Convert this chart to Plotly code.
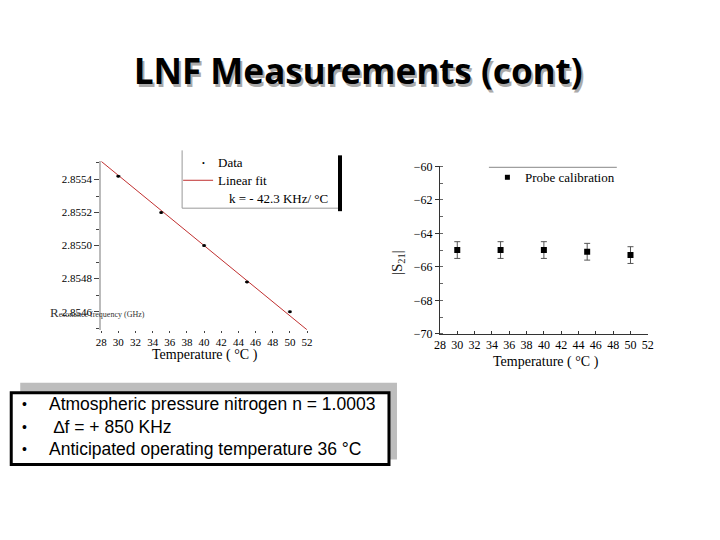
import plotly.graph_objects as go

# ---- data ----
temp_left = [30, 35, 40, 45, 50]
freq_ghz = [2.85542, 2.85520, 2.85500, 2.85478, 2.85460]
freq_err = [0.000003, 0.000003, 0.000003, 0.000003, 0.000003]
fit_x = [28, 52]
fit_y = [2.85551, 2.85449]

temp_right = [30, 35, 40, 45, 50]
s21_db = [-65.0, -65.0, -65.0, -65.1, -65.3]
s21_err = [0.5, 0.5, 0.5, 0.5, 0.5]

bullets = ["Atmospheric pressure nitrogen n = 1.0003",
           "\u00a0\u2206f = + 850 KHz",
           "Anticipated operating temperature 36 \u00b0C"]

W, H = 720, 540
SX, SY = 0.984, 0.977
def px(x): return (360 + (x - 360) / SX) / W
def py(y): return 1 - (270 + (y - 270) / SY) / H

SERIF = "Liberation Serif, Times New Roman, serif"
SANS = "Liberation Sans, Arial, sans-serif"

fig = go.Figure()

fig.add_trace(go.Scatter(x=fit_x, y=fit_y, mode="lines",
                         line=dict(color="#c03030", width=1),
                         xaxis="x", yaxis="y", showlegend=False, cliponaxis=True))
fig.add_trace(go.Scatter(x=temp_left, y=freq_ghz, mode="markers",
                         marker=dict(color="black", size=3),
                         error_y=dict(type="data", array=freq_err, color="#333", thickness=1, width=2),
                         xaxis="x", yaxis="y", showlegend=False))
fig.add_trace(go.Scatter(x=temp_right, y=s21_db, mode="markers",
                         marker=dict(color="black", size=6, symbol="square"),
                         error_y=dict(type="data", array=s21_err, color="#555", thickness=1, width=3),
                         xaxis="x2", yaxis="y2", showlegend=False))

tickfont_l = dict(family=SERIF, size=11, color="black")
tickfont_r = dict(family=SERIF, size=12, color="black")

fig.update_layout(
    width=W, height=H, margin=dict(l=0, r=0, t=0, b=0),
    paper_bgcolor="white", plot_bgcolor="white", showlegend=False,
    separators=".-",
    xaxis=dict(domain=[px(101), px(307)], range=[28, 52], dtick=2, tick0=28,
               showgrid=False, zeroline=False, showline=False,
               ticks="outside", ticklen=2, tickcolor="#444", tickfont=tickfont_l,
               anchor="y"),
    yaxis=dict(domain=[py(330), py(161)], range=[2.85449, 2.85551], dtick=0.0002, tick0=2.8546,
               tickformat=".4f", showgrid=False, zeroline=False,
               showline=True, linecolor="#bbbbbb", linewidth=2,
               ticks="outside", ticklen=5, tickcolor="#444", tickfont=tickfont_l,
               minor=dict(dtick=0.0001, ticks="outside", ticklen=3, tickcolor="#444"),
               anchor="x"),
    xaxis2=dict(domain=[px(440), px(648)], range=[28, 52], dtick=2, tick0=28,
                showgrid=False, zeroline=False, showline=True, linecolor="#333", linewidth=1,
                ticks="inside", ticklen=3, tickcolor="#333", tickfont=tickfont_r,
                anchor="y2"),
    yaxis2=dict(domain=[py(334), py(166)], range=[-70, -60], dtick=2, tick0=-70,
                showgrid=False, zeroline=False, showline=True, linecolor="#333", linewidth=1,
                ticks="outside", ticklen=4, tickcolor="#333", tickfont=tickfont_r,
                minor=dict(dtick=1, ticks="inside", ticklen=3, tickcolor="#666"),
                anchor="x2"),
)

ann = []
# Title with shadow
title = "LNF Measurements (cont)"
TF = "Noto Sans, DejaVu Sans, sans-serif"
ann.append(dict(x=px(361), y=py(73), text=f"<b>{title}</b>", showarrow=False,
                font=dict(family=TF, size=35, color="#aaaaaa"),
                xref="paper", yref="paper", xanchor="center", yanchor="middle"))
ann.append(dict(x=px(358), y=py(70), text=f"<b>{title}</b>", showarrow=False,
                font=dict(family=TF, size=35, color="black"),
                xref="paper", yref="paper", xanchor="center", yanchor="middle"))

# axis titles
ann.append(dict(x=px(205), y=py(355), text="Temperature ( \u00b0C )", showarrow=False,
                font=dict(family=SERIF, size=14, color="black"),
                xref="paper", yref="paper", xanchor="center", yanchor="middle"))
ann.append(dict(x=px(546), y=py(362), text="Temperature ( \u00b0C )", showarrow=False,
                font=dict(family=SERIF, size=14, color="black"),
                xref="paper", yref="paper", xanchor="center", yanchor="middle"))
ann.append(dict(x=px(48), y=py(313), text="R<span style='font-size:8px'>esonance frequency (GHz)</span>",
                showarrow=False, font=dict(family=SERIF, size=13, color="#333"),
                xref="paper", yref="paper", xanchor="left", yanchor="middle"))
ann.append(dict(x=px(398), y=py(262), text="|S<sub>21</sub>|", showarrow=False, textangle=-90,
                font=dict(family=SERIF, size=15, color="#222"),
                xref="paper", yref="paper", xanchor="center", yanchor="middle"))

# left legend text
ann.append(dict(x=px(216), y=py(162), text="Data", showarrow=False,
                font=dict(family=SERIF, size=13, color="black"),
                xref="paper", yref="paper", xanchor="left", yanchor="middle"))
ann.append(dict(x=px(216), y=py(180), text="Linear fit", showarrow=False,
                font=dict(family=SERIF, size=13, color="black"),
                xref="paper", yref="paper", xanchor="left", yanchor="middle"))
ann.append(dict(x=px(227), y=py(198), text="k = - 42.3 KHz/ \u00b0C", showarrow=False,
                font=dict(family=SERIF, size=13, color="black"),
                xref="paper", yref="paper", xanchor="left", yanchor="middle"))
ann.append(dict(x=px(203), y=py(163), text="\u2022", showarrow=False,
                font=dict(family=SERIF, size=8, color="black"),
                xref="paper", yref="paper", xanchor="center", yanchor="middle"))
# right legend
ann.append(dict(x=px(523), y=py(177), text="Probe calibration", showarrow=False,
                font=dict(family=SERIF, size=13, color="black"),
                xref="paper", yref="paper", xanchor="left", yanchor="middle"))

# bullets
ys = [404, 427, 450]
for txt, yy in zip(bullets, ys):
    ann.append(dict(x=px(24), y=py(yy), text="\u2022", showarrow=False,
                    font=dict(family=SANS, size=14, color="black"),
                    xref="paper", yref="paper", xanchor="center", yanchor="middle"))
    ann.append(dict(x=px(47), y=py(yy), text=txt,
                    showarrow=False, font=dict(family=SANS, size=17.5, color="black"),
                    xref="paper", yref="paper", xanchor="left", yanchor="middle"))

fig.update_layout(annotations=ann)

shapes = []
# text box shadow + box
shapes.append(dict(type="rect", x0=px(20), x1=px(397), y0=py(460), y1=py(383),
                   xref="paper", yref="paper", fillcolor="#bdbdbd", line=dict(width=0), layer="below"))
shapes.append(dict(type="rect", x0=px(11), x1=px(389), y0=py(465), y1=py(393),
                   xref="paper", yref="paper", fillcolor="white", line=dict(color="black", width=3), layer="below"))
# left legend box
shapes.append(dict(type="line", x0=px(182), x1=px(182), y0=py(208), y1=py(150),
                   xref="paper", yref="paper", line=dict(color="#999", width=1)))
shapes.append(dict(type="line", x0=px(182), x1=px(338), y0=py(208), y1=py(208),
                   xref="paper", yref="paper", line=dict(color="#999", width=1)))
shapes.append(dict(type="line", x0=px(340), x1=px(340), y0=py(211), y1=py(155),
                   xref="paper", yref="paper", line=dict(color="black", width=4)))
shapes.append(dict(type="line", x0=px(183), x1=px(213), y0=py(180), y1=py(180),
                   xref="paper", yref="paper", line=dict(color="#c03030", width=1)))
# right legend line + marker
shapes.append(dict(type="line", x0=px(489), x1=px(617), y0=py(167), y1=py(167),
                   xref="paper", yref="paper", line=dict(color="#888", width=1)))
shapes.append(dict(type="rect", x0=px(505), x1=px(510), y0=py(179.5), y1=py(174.5),
                   xref="paper", yref="paper", fillcolor="black", line=dict(width=0)))
fig.update_layout(shapes=shapes)

fig.write_html("out.html", config={"displayModeBar": False},
               post_script="document.body.style.margin='0';document.body.style.overflow='hidden';document.documentElement.style.overflow='hidden';")
